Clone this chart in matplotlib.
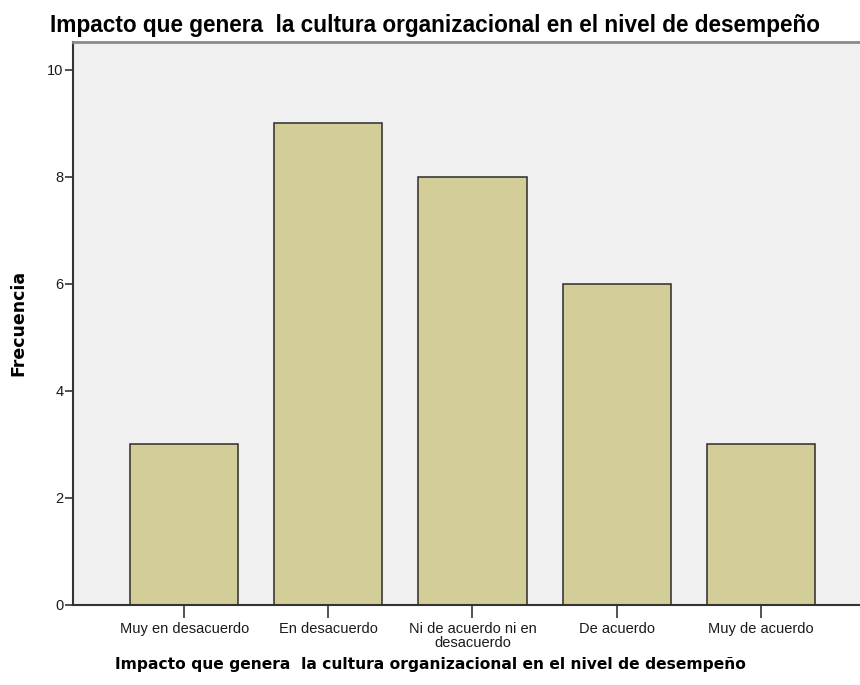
import matplotlib
matplotlib.use("Agg")
import matplotlib.pyplot as plt
import numpy as np

categorias = ["Muy en desacuerdo", "En desacuerdo", "Ni de acuerdo ni en\ndesacuerdo",
              "De acuerdo", "Muy de acuerdo"]
frecuencias = [3, 9, 8, 6, 3]
yticks = [0, 2, 4, 6, 8, 10]
titulo = "Impacto que genera  la cultura organizacional en el nivel de desempeño"

plt.rcParams["font.family"] = ["Liberation Sans", "DejaVu Sans"]

fig = plt.figure(figsize=(8.6, 6.85), dpi=100)
ax = fig.add_axes([73 / 860, 1 - 605 / 685, 1 - 73 / 860 + 0.002, (605 - 42) / 685])
ax.set_facecolor("#f0f0f0")

x = np.arange(len(categorias))
ax.bar(x, frecuencias, width=0.75, color="#d3ce98", edgecolor="#2b2b2b", linewidth=1.1, zorder=2)

ax.set_xlim(-0.771, 4.70)
ax.set_ylim(0, 10.52)
ax.set_xticks(x)
ax.set_xticklabels(categorias, fontsize=10.5, linespacing=1.0, color="#1a1a1a")
ax.set_yticks(yticks)
ax.set_yticklabels([str(v) for v in yticks], fontsize=10.5, color="#1a1a1a")
ax.tick_params(axis="x", direction="out", length=9, width=1.2, color="#333333", pad=3)
ax.tick_params(axis="y", direction="out", length=6, width=1.2, color="#333333", pad=1)

for side in ["left", "bottom"]:
    ax.spines[side].set_color("#333333")
    ax.spines[side].set_linewidth(1.5)
ax.spines["top"].set_color("#8a8a8a")
ax.spines["top"].set_linewidth(2)
ax.spines["right"].set_visible(False)

fig.text(18 / 860, 1 - 323 / 685, "Frecuencia", fontsize=12.5, fontweight="bold",
         rotation=90, ha="center", va="center", family=["DejaVu Sans"])
fig.text(50 / 860, 1 - 32 / 685, titulo, fontsize=16.25, fontweight="bold",
         ha="left", va="baseline")
fig.text(430 / 860, 1 - 664 / 685, titulo, fontsize=11.2, fontweight="bold",
         ha="center", va="center", family=["DejaVu Sans"])

fig.savefig("out.png", dpi=100)
